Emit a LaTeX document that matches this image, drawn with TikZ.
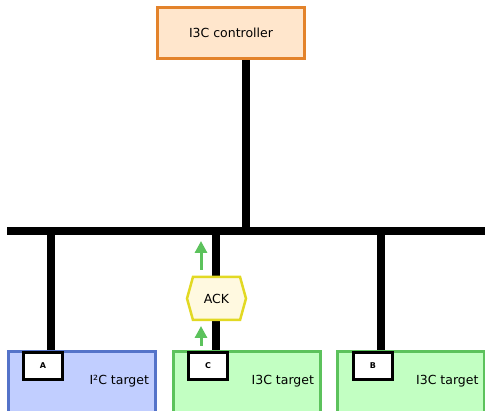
\documentclass[tikz,border=0pt]{standalone}
\usepackage{fontspec}
\setmainfont{DejaVu Sans}
\usetikzlibrary{arrows.meta,shapes.symbols,backgrounds}

\definecolor{ctrlfill}{HTML}{FFE6CC}
\definecolor{ctrldraw}{HTML}{E3832B}
\definecolor{itwofill}{HTML}{C1CEFF}
\definecolor{itwodraw}{HTML}{5473C9}
\definecolor{ithreefill}{HTML}{C2FFC2}
\definecolor{ithreedraw}{HTML}{5CC25C}
\definecolor{ackfill}{HTML}{FFF9E0}
\definecolor{ackdraw}{HTML}{E2D923}

\begin{document}
\begin{tikzpicture}[x=1pt,y=-1pt,font=\fontsize{12.5}{14}\selectfont,
    target/.style={draw,line width=3pt,minimum width=147pt,minimum height=64pt},
    port/.style={draw,fill=white,line width=3pt,minimum width=39pt,minimum height=27pt,
      inner sep=0pt,font=\bfseries\fontsize{8}{9}\selectfont},
    wire/.style={line width=8pt},
    flow/.style={draw=ithreedraw,line width=3pt,-{Triangle[length=12pt,width=12pt]}}]
    \useasboundingbox (0,0) rectangle (485,411);
    \clip (0,0) rectangle (485,411);

    \node[draw=ctrldraw,fill=ctrlfill,line width=3pt,minimum width=147pt,minimum height=51pt]
      (ctrl) at (231,33) {I3C controller};

    \node[target,draw=itwodraw,fill=itwofill] (tA) at (82,383.5) {};
    \node[target,draw=ithreedraw,fill=ithreefill] (tC) at (247,383.5) {};
    \node[target,draw=ithreedraw,fill=ithreefill] (tB) at (411,383.5) {};
    \node[anchor=east] (lA) at (152.5,381) {I²C target};
    \node[anchor=east] (lC) at (317.5,381) {I3C target};
    \node[anchor=east] (lB) at (482,381) {I3C target};

    \node[port] (pA) at (43,366) {A};
    \node[port] (pC) at (208,366) {C};
    \node[port] (pB) at (373,366) {B};

    \node[draw=ackdraw,fill=ackfill,line width=2.5pt,signal,signal to=east and west,
      signal pointer angle=149,minimum width=59pt,minimum height=43pt,inner sep=0pt]
      (ack) at (216.5,298.5) {ACK};

    \coordinate (busW) at (7,231);
    \coordinate (busE) at (492,231);
    \coordinate (tapM) at (246,231);
    \coordinate (tapA) at (51,231);
    \coordinate (tapC) at (216,231);
    \coordinate (tapB) at (381,231);

    \begin{scope}[on background layer]
      \draw[wire] (busW) -- (busE);
      \draw[wire] (ctrl.south -| tapM) -- (tapM);
      \draw[wire] (tapA) -- (tapA |- pA.north)
        (tapC) -- (tapC |- pC.north)
        (tapB) -- (tapB |- pB.north);
    \end{scope}

    % acknowledge travelling up from C
    \coordinate (inS) at (201,346);
    \coordinate (inE) at (201,326);
    \coordinate (outS) at (201,270);
    \coordinate (outE) at (201,241);
    \draw[flow] (inS) -- (inE);
    \draw[flow] (outS) -- (outE);
\end{tikzpicture}
\end{document}
